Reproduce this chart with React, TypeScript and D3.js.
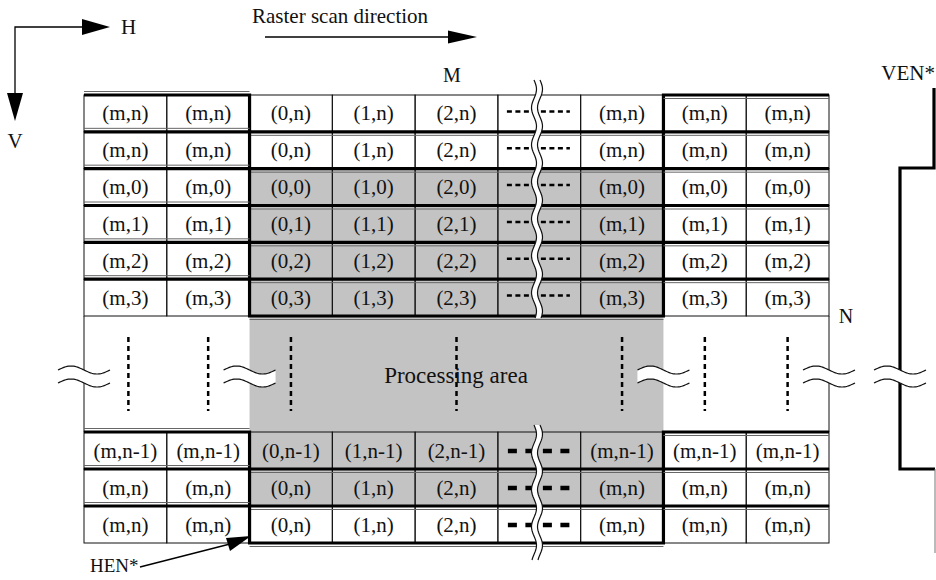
import React from "react";
import * as d3 from "d3";

// ---- data ----
const columnIndexLabels = ["m", "m", "0", "1", "2", "…", "m", "m", "m"];
const topRowLabels = ["n", "n", "0", "1", "2", "3"];
const topRowShaded = [false, false, true, true, true, true];
const bottomRowLabels = ["n-1", "n", "n"];
const bottomRowShaded = [true, true, false];
const gapDashedColumns = [0, 1, 2, 4, 6, 7, 8];
const gapBreakEdges = [0, 2, 7, 9];
const processingLabel = "Processing area";
const scanLabel = "Raster scan direction";

const FONT = "Liberation Serif, DejaVu Serif, Times New Roman, serif";
const W = 936;
const H = 580;

const x = d3.scaleLinear().domain([0, 9]).range([84, 829]);
const colW = (x(1) - x(0));
const topY = d3.scaleLinear().domain([0, 6]).range([95, 316]);
const gapTop = topY(6);
const gapBottom = 432;
const bottomY = d3.scaleLinear().domain([0, 3]).range([gapBottom, 543]);

type Row = { label: string; shaded: boolean; y0: number; y1: number; bottom: boolean };
const rows: Row[] = [
  ...topRowLabels.map((l, i) => ({ label: l, shaded: topRowShaded[i], y0: topY(i), y1: topY(i + 1), bottom: false })),
  ...bottomRowLabels.map((l, i) => ({ label: l, shaded: bottomRowShaded[i], y0: bottomY(i), y1: bottomY(i + 1), bottom: true })),
];

const line = d3.line<[number, number]>();

function hWave(cx: number, cy: number, half = 26, amp = 4) {
  const pts: [number, number][] = d3.range(0, 41).map((k) => {
    const t = k / 40;
    return [cx - half + 2 * half * t, cy - amp * Math.sin(2 * Math.PI * t)];
  });
  return pts;
}
function vWave(cx: number, y0: number, y1: number, period = 37, amp = 2.5) {
  const n = Math.ceil((y1 - y0) / 2);
  return d3.range(0, n + 1).map((k) => {
    const y = y0 + ((y1 - y0) * k) / n;
    return [cx + amp * Math.sin((2 * Math.PI * (y - y0)) / period), y] as [number, number];
  });
}

function HBreak({ cx, cy }: { cx: number; cy: number }) {
  const a = hWave(cx, cy);
  const b = hWave(cx, cy + 13);
  const poly = [...a, ...b.slice().reverse()];
  return (
    <g>
      <path d={line(poly) + "Z"} fill="#fff" stroke="none" />
      <path d={line(a) || ""} fill="none" stroke="#111" strokeWidth={1.2} />
      <path d={line(b) || ""} fill="none" stroke="#111" strokeWidth={1.2} />
    </g>
  );
}

function VBreak({ cx, y0, y1 }: { cx: number; y0: number; y1: number }) {
  const a = vWave(cx - 3, y0, y1);
  const b = vWave(cx + 3, y0, y1);
  const poly = [...a, ...b.slice().reverse()];
  return (
    <g>
      <path d={line(poly) + "Z"} fill="#fff" stroke="none" />
      <path d={line(a) || ""} fill="none" stroke="#111" strokeWidth={1.2} />
      <path d={line(b) || ""} fill="none" stroke="#111" strokeWidth={1.2} />
    </g>
  );
}

export default function App() {
  const gray = "#c3c3c3";
  const midL = x(2);
  const midR = x(7);
  const ts = { fontFamily: FONT };
  return (
    <svg width={W} height={H} style={{ position: "absolute", left: 0, top: 0, background: "#fff", fontFamily: FONT }}>
      {/* shaded processing area */}
      {rows.filter((r) => r.shaded).map((r, i) => (
        <rect key={"s" + i} x={midL} y={r.y0} width={midR - midL} height={r.y1 - r.y0} fill={gray} />
      ))}
      <rect x={midL} y={gapTop} width={midR - midL} height={gapBottom - gapTop} fill={gray} />

      {/* thin cell grid */}
      {rows.map((r, ri) =>
        columnIndexLabels.map((_, c) => (
          <rect key={`c${ri}-${c}`} x={x(c)} y={r.y0} width={colW} height={r.y1 - r.y0} fill="none" stroke="#111" strokeWidth={1} />
        ))
      )}
      <line x1={x(0)} x2={x(0)} y1={gapTop} y2={gapBottom} stroke="#111" strokeWidth={1} />
      <line x1={x(9)} x2={x(9)} y1={gapTop} y2={gapBottom} stroke="#111" strokeWidth={1} />

      {/* HEN* staircase per row */}
      {rows.map((r, ri) => (
        <g key={"h" + ri}>
          <path
            d={line([[x(0), r.y0], [midL, r.y0], [midL, r.y1], [midR, r.y1], [midR, r.y0], [x(9), r.y0]]) || ""}
            fill="none" stroke="#000" strokeWidth={3.2} strokeLinejoin="miter"
          />
          <line x1={x(0)} x2={midL} y1={r.y0 - 3.5} y2={r.y0 - 3.5} stroke="#666" strokeWidth={1} />
          <line x1={midR} x2={x(9)} y1={r.y0 + 3.5} y2={r.y0 + 3.5} stroke="#666" strokeWidth={1} />
          <line x1={midL} x2={midR} y1={r.y1 + 3.5} y2={r.y1 + 3.5} stroke="#666" strokeWidth={1} />
        </g>
      ))}

      {/* cell labels */}
      {rows.map((r, ri) =>
        columnIndexLabels.map((ci, c) =>
          c === 5 ? null : (
            <text key={`t${ri}-${c}`} style={ts} x={x(c) + colW / 2} y={(r.y0 + r.y1) / 2 + 7} textAnchor="middle" fontSize={21} fill="#111">
              {`(${ci},${r.label})`}
            </text>
          )
        )
      )}

      {/* dash cells */}
      {rows.map((r, ri) =>
        r.bottom ? (
          <line key={"d" + ri} x1={x(5) + 10} x2={x(5) + 72} y1={(r.y0 + r.y1) / 2 + 0.5} y2={(r.y0 + r.y1) / 2 + 0.5}
            stroke="#000" strokeWidth={4.5} strokeDasharray="9 8.5" />
        ) : (
          <line key={"d" + ri} x1={x(5) + 9} x2={x(5) + 72} y1={(r.y0 + r.y1) / 2 - 2} y2={(r.y0 + r.y1) / 2 - 2}
            stroke="#000" strokeWidth={2.5} strokeDasharray="5 3.5" />
        )
      )}

      {/* gap dashed verticals */}
      {gapDashedColumns.map((c) => (
        <line key={"g" + c} x1={x(c) + colW / 2 + (c === 0 ? 3 : 0)} x2={x(c) + colW / 2 + (c === 0 ? 3 : 0)} y1={337} y2={411}
          stroke="#000" strokeWidth={2.5} strokeDasharray="5 4" />
      ))}
      <text style={ts} x={456} y={383} textAnchor="middle" fontSize={23} fill="#111">{processingLabel}</text>

      {/* vertical break through the dash column */}
      <VBreak cx={537} y0={80} y1={318} />
      <VBreak cx={537} y0={425} y1={560} />

      {/* VEN* waveform */}
      <path d={line([[934, 88], [934, 168], [900, 168], [900, 469], [935, 469]]) || ""} fill="none" stroke="#000" strokeWidth={3.2} />
      <line x1={935} x2={935} y1={469} y2={553} stroke="#777" strokeWidth={1} />
      <text style={ts} x={935} y={80} textAnchor="end" fontSize={21} fill="#111">VEN*</text>

      {/* horizontal breaks in the gap */}
      {gapBreakEdges.map((e) => (
        <HBreak key={"b" + e} cx={x(e)} cy={370} />
      ))}
      <HBreak cx={900} cy={370} />

      {/* labels */}
      <text style={ts} x={452} y={82} textAnchor="middle" fontSize={20} fill="#111">M</text>
      <text style={ts} x={846} y={323} textAnchor="middle" fontSize={20} fill="#111">N</text>

      {/* H / V axes */}
      <path d={line([[15, 93], [15, 27], [84, 27]]) || ""} fill="none" stroke="#000" strokeWidth={1.3} />
      <path d="M82,19 L110,27 L82,35 Z" fill="#000" />
      <path d="M7,93 L15,121 L23,93 Z" fill="#000" />
      <text style={ts} x={121} y={34} fontSize={21} fill="#111">H</text>
      <text style={ts} x={15} y={148} textAnchor="middle" fontSize={21} fill="#111">V</text>

      {/* raster scan direction */}
      <text style={ts} x={252} y={23} fontSize={21} fill="#111">{scanLabel}</text>
      <line x1={265} x2={450} y1={37} y2={37} stroke="#000" strokeWidth={1.3} />
      <path d="M448,30.5 L477,37 L448,43.5 Z" fill="#000" />

      {/* HEN* annotation */}
      <text style={ts} x={90} y={572} fontSize={19} fill="#111">HEN*</text>
      <line x1={140} y1={567} x2={230} y2={544} stroke="#000" strokeWidth={1.3} />
      <path d="M251,536 L226,538 L230,551 Z" fill="#000" />
    </svg>
  );
}
